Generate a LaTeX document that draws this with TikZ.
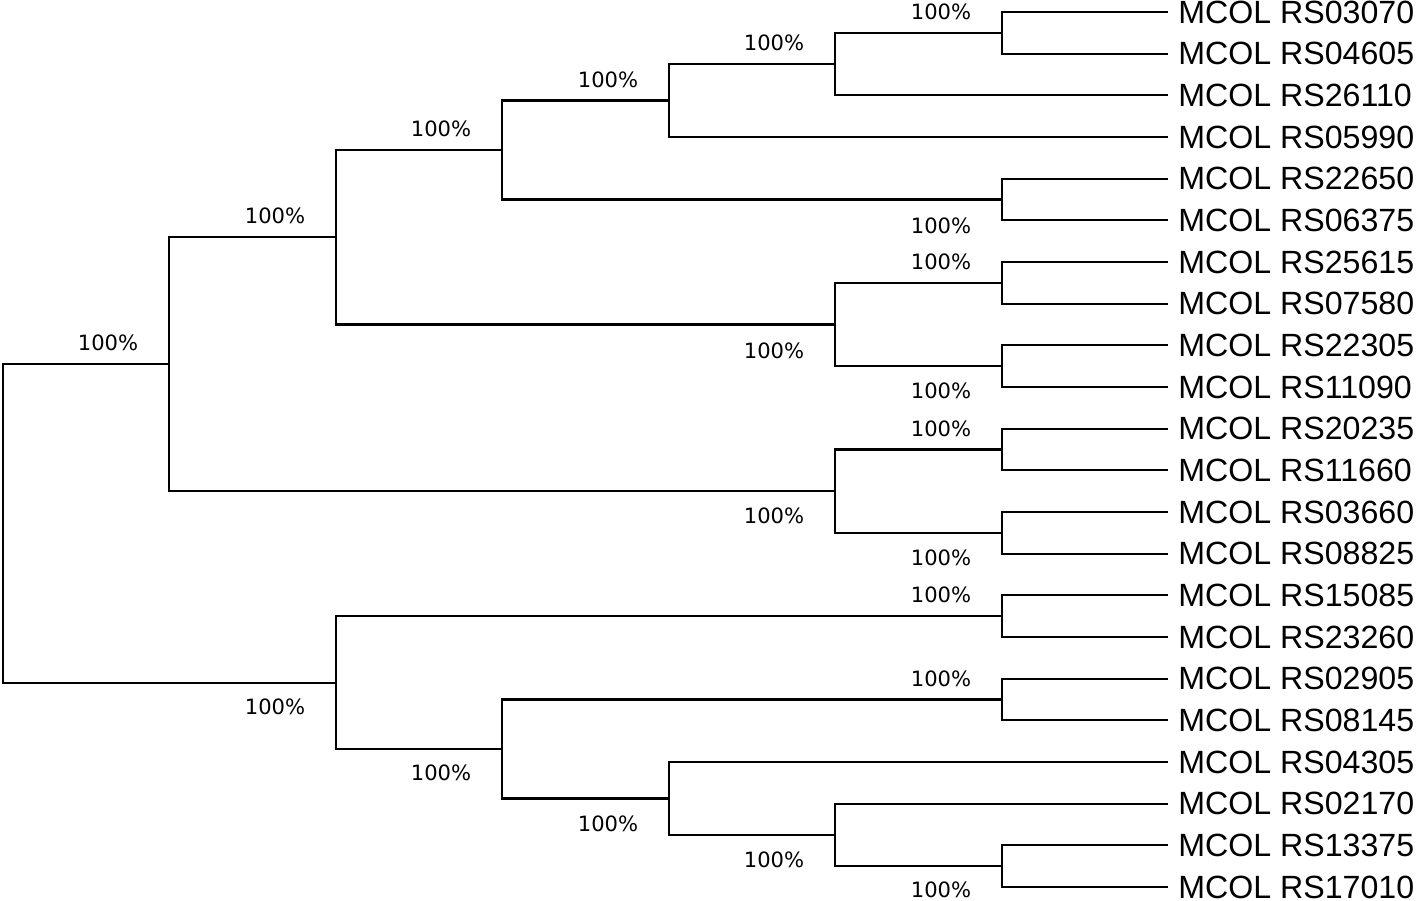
\documentclass[tikz,border=0pt]{standalone}
\usepackage{fontspec}
\setmainfont{Liberation Sans}
\newfontfamily\bootfont{DejaVu Sans}
\usetikzlibrary{calc}

\tikzset{
  branch/.style={line width=1.2pt},
  leaf/.style={anchor=west,inner sep=0pt,font=\fontsize{18.3}{20}\selectfont},
  boot/.style={inner sep=0pt,font=\bootfont\fontsize{12}{14}\selectfont},
}

\begin{document}
\begin{tikzpicture}[x=0.02cm,y=-0.02cm]
  \useasboundingbox (0,0) rectangle (1416,901);

  % leaves
  \foreach \name [count=\i from 0] in {03070,04605,26110,05990,22650,06375,25615,07580,
      22305,11090,20235,11660,03660,08825,15085,23260,02905,08145,04305,02170,13375,17010}{
    \coordinate (t\i) at (1168,{12+41.667*\i});
    \node[leaf] (m\i) at (1178,{12+41.667*\i}) {MCOL RS\name};
  }

  % inner nodes
  \coordinate (n01) at (1002,32.8);
  \coordinate (n0to2) at (835,64.1);
  \coordinate (n0to3) at (669,100.5);
  \coordinate (n45) at (1002,199.5);
  \coordinate (n0to5) at (502,150.0);
  \coordinate (n67) at (1002,282.8);
  \coordinate (n89) at (1002,366.2);
  \coordinate (n6to9) at (835,324.5);
  \coordinate (n0to9) at (336,237.3);
  \coordinate (n1011) at (1002,449.5);
  \coordinate (n1213) at (1002,532.8);
  \coordinate (n10to13) at (835,491.2);
  \coordinate (n0to13) at (169,364.2);
  \coordinate (n1415) at (1002,616.2);
  \coordinate (n1617) at (1002,699.5);
  \coordinate (n2021) at (1002,866.2);
  \coordinate (n19to21) at (835,834.9);
  \coordinate (n18to21) at (669,798.5);
  \coordinate (n16to21) at (502,749.0);
  \coordinate (n14to21) at (336,682.6);
  \coordinate (root) at (3,523.4);

  % branches
  \foreach \p/\c in {n01/t0,n01/t1,n0to2/n01,n0to2/t2,n0to3/n0to2,n0to3/t3,
      n45/t4,n45/t5,n0to5/n0to3,n0to5/n45,n67/t6,n67/t7,n89/t8,n89/t9,
      n6to9/n67,n6to9/n89,n0to9/n0to5,n0to9/n6to9,n1011/t10,n1011/t11,
      n1213/t12,n1213/t13,n10to13/n1011,n10to13/n1213,n0to13/n0to9,n0to13/n10to13,
      n1415/t14,n1415/t15,n1617/t16,n1617/t17,n2021/t20,n2021/t21,
      n19to21/t19,n19to21/n2021,n18to21/t18,n18to21/n19to21,
      n16to21/n1617,n16to21/n18to21,n14to21/n1415,n14to21/n16to21,
      root/n0to13,root/n14to21}
    \draw[branch] (\p) |- (\c);

  % bootstrap values
  \foreach \c/\dy in {n01/-21,n0to2/-21,n0to3/-21,n0to5/-21,n45/26,n0to9/-21,
      n67/-21,n89/25,n6to9/26,n1011/-21,n1213/25,n10to13/25,n0to13/-21,
      n14to21/24,n1415/-21,n1617/-21,n16to21/24,n18to21/25,n19to21/25,n2021/24}
    \node[boot] (s\c) at ($(\c)+(-61,\dy)$) {100\%};
\end{tikzpicture}
\end{document}
